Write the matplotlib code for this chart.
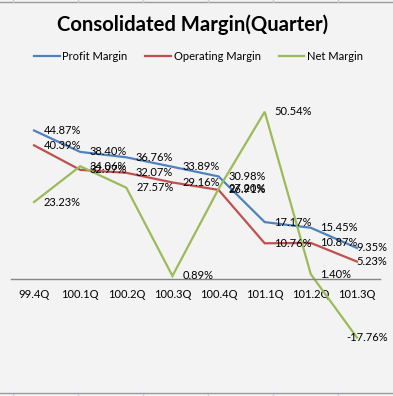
import matplotlib
matplotlib.use("Agg")
import matplotlib.pyplot as plt
from matplotlib.lines import Line2D

# quarters and margins (%)
quarters = ["99.4Q", "100.1Q", "100.2Q", "100.3Q", "100.4Q", "101.1Q", "101.2Q", "101.3Q"]
profit_margin = [44.87, 38.40, 36.76, 33.89, 30.98, 17.17, 15.45, 9.35]
operating_margin = [40.39, 32.97, 32.07, 29.16, 26.91, 10.76, 10.87, 5.23]
net_margin = [23.23, 34.06, 27.57, 0.89, 27.20, 50.54, 1.40, -17.76]

series_names = ["Profit Margin", "Operating Margin", "Net Margin"]
colors = ["#4F81BD", "#C0504D", "#9BBB59"]

plt.rcParams["font.family"] = ["Lato", "DejaVu Sans"]
bg = "#f3f3f3"

W, H = 393, 396
fig = plt.figure(figsize=(W / 100, H / 100), dpi=100, facecolor=bg)
ax = fig.add_axes([11 / W, 1 - 345 / H, (380 - 11) / W, (345 - 97) / H])
ax.set_facecolor(bg)

xs = list(range(len(quarters)))
last = len(quarters) - 1
for vals, c in zip([profit_margin, operating_margin, net_margin], colors):
    ax.plot(xs, vals, color=c, lw=1.6, solid_joinstyle="miter")
    for x, v in zip(xs, vals):
        if x == last:
            # excel pulls the last labels back inside the chart area
            ax.annotate(f"{v:.2f}%", (x, v), xytext=(22, 0), textcoords="offset points",
                        ha="right", va="center", fontsize=8, color="black")
        else:
            ax.annotate(f"{v:.2f}%", (x, v), xytext=(7, 0), textcoords="offset points",
                        ha="left", va="center", fontsize=8, color="black")

ax.set_xlim(-0.5, len(quarters) - 0.5)
ax.set_ylim(-20, 55)
for s in ["top", "right", "left"]:
    ax.spines[s].set_visible(False)
ax.spines["bottom"].set_position(("data", 0))
ax.spines["bottom"].set_color("#868686")
ax.spines["bottom"].set_linewidth(1.0)
ax.set_yticks([])
ax.set_xticks(xs)
ax.set_xticklabels(quarters, fontsize=8)
ax.tick_params(axis="x", length=0, pad=7)

fig.text(0.49, 1 - 25 / H, "Consolidated Margin(Quarter)", ha="center", va="center",
         fontsize=14.6, fontweight="bold")

handles = [Line2D([], [], color=c, lw=1.6) for c in colors]
fig.legend(handles, series_names, loc="center", bbox_to_anchor=(0.505, 1 - 56 / H), ncol=3,
           frameon=False, fontsize=8, handlelength=2.3, handletextpad=0.25, columnspacing=1.6)

# spreadsheet cell borders peeking around the chart
grid_x = [13, 78, 143, 208, 273, 338]
fig.add_artist(Line2D([0, 1], [1 - 2 / H, 1 - 2 / H], color="#9a9a9a", lw=1.0))
fig.add_artist(Line2D([0, 1], [1 - 393 / H, 1 - 393 / H], color="#9a9a9a", lw=1.0))
for gx in grid_x:
    fig.add_artist(Line2D([gx / W, gx / W], [1, 1 - 1.5 / H], color="#c8c8d8", lw=1))
    fig.add_artist(Line2D([gx / W, gx / W], [1 - 394 / H, 0], color="#c8c8d8", lw=1))

fig.savefig("out.png", dpi=100, facecolor=bg)
